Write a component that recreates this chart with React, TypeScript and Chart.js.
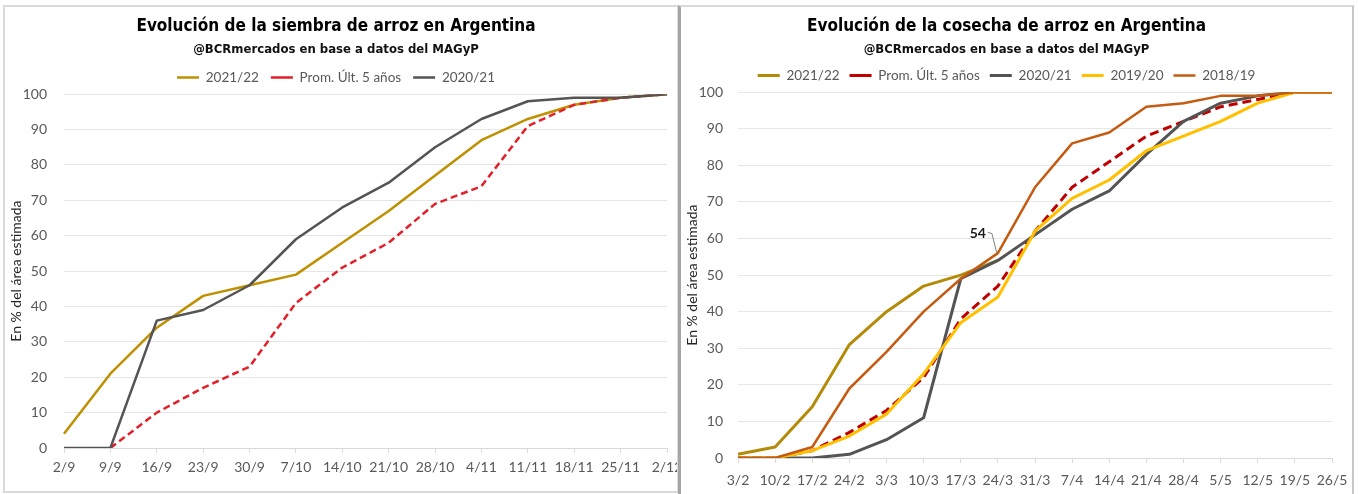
import React, { useEffect, useRef } from 'react';
import { Chart, registerables } from 'chart.js';

Chart.register(...registerables);

// ---------- Data: siembra (left) ----------
const siembraLabels = ['2/9', '9/9', '16/9', '23/9', '30/9', '7/10', '14/10', '21/10', '28/10', '4/11', '11/11', '18/11', '25/11', '2/12'];
const siembra2122 = [4, 21, 34, 43, 46, 49, 58, 67, 77, 87, 93, 97, 99, 100];
const siembraProm = [null, 0, 10, 17, 23, 41, 51, 58, 69, 74, 91, 97, 99, 100];
const siembra2021 = [0, 0, 36, 39, 46, 59, 68, 75, 85, 93, 98, 99, 99, 100];

// ---------- Data: cosecha (right) ----------
const cosechaLabels = ['3/2', '10/2', '17/2', '24/2', '3/3', '10/3', '17/3', '24/3', '31/3', '7/4', '14/4', '21/4', '28/4', '5/5', '12/5', '19/5', '26/5'];
const cosecha2122 = [1, 3, 14, 31, 40, 47, 50, 54, null, null, null, null, null, null, null, null, null];
const cosechaProm = [0, 0, 2, 7, 13, 22, 38, 47, 62, 74, 81, 88, 92, 96, 98, 100, 100];
const cosecha2021 = [0, 0, 0, 1, 5, 11, 49, 54, 61, 68, 73, 83, 92, 97, 99, 100, 100];
const cosecha1920 = [0, 0, 2, 6, 12, 23, 37, 44, 62, 71, 76, 84, 88, 92, 97, 100, 100];
const cosecha1819 = [0, 0, 3, 19, 29, 40, 49, 56, 74, 86, 89, 96, 97, 99, 99, 100, 100];

const seriesNames = ['2021/22', 'Prom. Últ. 5 años', '2020/21', '2019/20', '2018/19'];
const yMin = 0;
const yMax = 100;
const yStep = 10;

const titleSiembra = 'Evolución de la siembra de arroz en Argentina';
const titleCosecha = 'Evolución de la cosecha de arroz en Argentina';
const subtitleText = '@BCRmercados en base a datos del MAGyP';
const yTitle = 'En % del área estimada';

const TITLE_FONT = '"Liberation Sans Narrow", "DejaVu Sans Condensed", "Arial Narrow", sans-serif';
const BODY_FONT = 'Lato, "Open Sans", "Liberation Sans", sans-serif';

type Cfg = {
  title: string;
  yWidth: number;
  yPad: number;
  xHeight: number;
  xPad: number;
  rightPad: number;
  legendPad: number;
};

function buildOptions(cfg: Cfg): any {
  return {
    responsive: false,
    maintainAspectRatio: false,
    animation: false,
    devicePixelRatio: 1,
    events: [],
    layout: { padding: { left: 0, right: cfg.rightPad, top: 0, bottom: 0 } },
    elements: { point: { radius: 0, hoverRadius: 0 }, line: { tension: 0 } },
    plugins: {
      title: {
        display: true,
        text: cfg.title,
        color: '#000000',
        font: { family: TITLE_FONT, size: 17, weight: 'bold', lineHeight: 1.2 },
        padding: { top: 9.8, bottom: 0 },
      },
      subtitle: {
        display: true,
        text: subtitleText,
        color: '#111111',
        font: { family: TITLE_FONT, size: 13, weight: 'bold', lineHeight: 1.2 },
        padding: { top: 5, bottom: 0.9 },
      },
      legend: {
        display: true,
        position: 'top',
        labels: {
          usePointStyle: true,
          pointStyle: 'line',
          pointStyleWidth: 22,
          color: '#595959',
          font: { family: BODY_FONT, size: 13.5 },
          padding: cfg.legendPad,
          sort: (a: any, b: any) => a.datasetIndex - b.datasetIndex,
        },
      },
      tooltip: { enabled: false },
    },
    scales: {
      x: {
        type: 'category',
        offset: false,
        grid: { display: true, drawOnChartArea: false, drawTicks: true, tickLength: 5, color: '#d9d9d9' },
        border: { display: true, color: '#d9d9d9', width: 1 },
        ticks: { color: '#595959', font: { family: BODY_FONT, size: 14 }, padding: cfg.xPad, maxRotation: 0, autoSkip: false },
        afterFit: (s: any) => {
          s.height = cfg.xHeight;
          s.paddingRight = 0;
          s.paddingLeft = 0;
        },
      },
      y: {
        min: yMin,
        max: yMax,
        ticks: { stepSize: yStep, color: '#595959', font: { family: BODY_FONT, size: 14 }, padding: cfg.yPad },
        grid: { color: '#e6e6e6', drawTicks: false, lineWidth: 1 },
        border: { display: false },
        title: {
          display: true,
          text: yTitle,
          color: '#262626',
          font: { family: BODY_FONT, size: 14 },
          padding: { top: 3, bottom: 0 },
        },
        afterFit: (s: any) => {
          s.width = cfg.yWidth;
        },
      },
    },
  };
}

const lastLabelPlugin = {
  id: 'lastLabel',
  afterDatasetsDraw(chart: any) {
    const data = chart.data.datasets[0].data as (number | null)[];
    let idx = -1;
    data.forEach((v, i) => {
      if (v !== null && v !== undefined) idx = i;
    });
    if (idx < 0) return;
    const pt = chart.getDatasetMeta(0).data[idx];
    if (!pt) return;
    const { x, y } = pt;
    const ctx = chart.ctx;
    ctx.save();
    ctx.strokeStyle = '#7f7f7f';
    ctx.lineWidth = 1;
    ctx.beginPath();
    ctx.moveTo(x - 10, y - 28);
    ctx.lineTo(x - 6, y - 27);
    ctx.lineTo(x - 1, y - 7);
    ctx.stroke();
    ctx.font = `bold 14px ${BODY_FONT}`;
    ctx.fillStyle = '#1a1a1a';
    ctx.textAlign = 'right';
    ctx.textBaseline = 'middle';
    ctx.fillText(String(data[idx]), x - 12, y - 27);
    ctx.restore();
  },
};

function line(label: string, data: (number | null)[], color: string, width: number, order: number, dash?: number[]) {
  return {
    label,
    data,
    borderColor: color,
    backgroundColor: color,
    borderWidth: width,
    borderDash: dash || [],
    pointRadius: 0,
    fill: false,
    tension: 0,
    order,
    borderCapStyle: 'butt',
    borderJoinStyle: 'round',
  };
}

function siembraConfig(): any {
  return {
    type: 'line',
    data: {
      labels: siembraLabels,
      datasets: [
        line(seriesNames[0], siembra2122, '#BF9000', 2.5, 3),
        line(seriesNames[1], siembraProm, '#E3202A', 2.5, 2, [7, 4]),
        line(seriesNames[2], siembra2021, '#545454', 2.5, 1),
      ],
    },
    options: buildOptions({ title: titleSiembra, yWidth: 59, yPad: 17, xHeight: 43, xPad: 6, rightPad: 10, legendPad: 12 }),
  };
}

function cosechaConfig(): any {
  return {
    type: 'line',
    data: {
      labels: cosechaLabels,
      datasets: [
        line(seriesNames[0], cosecha2122, '#B38B08', 3, 5),
        line(seriesNames[1], cosechaProm, '#C00000', 3, 4, [9, 5]),
        line(seriesNames[2], cosecha2021, '#545454', 3, 3),
        line(seriesNames[3], cosecha1920, '#FFC000', 3, 2),
        line(seriesNames[4], cosecha1819, '#C55A11', 2.5, 1),
      ],
    },
    options: buildOptions({ title: titleCosecha, yWidth: 57, yPad: 15, xHeight: 36, xPad: 9, rightPad: 20, legendPad: 10 }),
    plugins: [lastLabelPlugin],
  };
}

function ChartCanvas({ make, width, height }: { make: () => any; width: number; height: number }) {
  const ref = useRef<HTMLCanvasElement>(null);
  useEffect(() => {
    if (!ref.current) return;
    const chart = new Chart(ref.current, make());
    return () => chart.destroy();
  }, []);
  return <canvas ref={ref} width={width} height={height} style={{ display: 'block', width, height }} />;
}

export default function App() {
  return (
    <div style={{ position: 'fixed', left: 0, top: 0, width: 1359, height: 494, overflow: 'hidden', background: '#ffffff' }}>
      <div
        style={{
          position: 'absolute',
          left: 3,
          top: 5,
          width: 676,
          height: 488,
          boxSizing: 'border-box',
          border: '2px solid #d9d9d9',
          background: '#fff',
        }}
      >
        <ChartCanvas make={siembraConfig} width={672} height={484} />
      </div>
      <div
        style={{
          position: 'absolute',
          left: 678,
          top: 5,
          width: 676,
          height: 495,
          boxSizing: 'border-box',
          borderTop: '2px solid #d9d9d9',
          borderRight: '2px solid #c8c8c8',
          borderBottom: '2px solid #d9d9d9',
          borderLeft: '3px solid #a6a6a6',
          background: '#fff',
        }}
      >
        <ChartCanvas make={cosechaConfig} width={671} height={487} />
      </div>
    </div>
  );
}
